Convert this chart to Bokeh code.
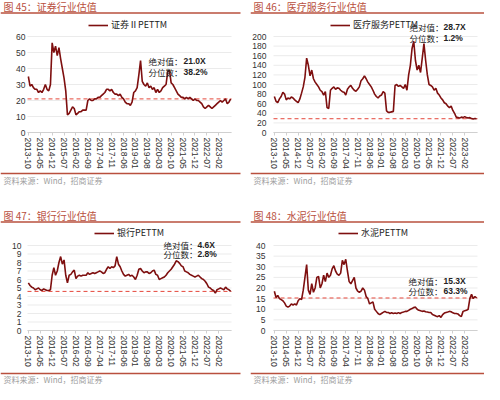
from bokeh.plotting import figure
from bokeh.layouts import row, column
from bokeh.models import Range1d, FixedTicker, Legend, LegendItem, Label
from bokeh.embed import file_html
from bokeh.resources import INLINE

# ---------------- data ----------------
tick_labels = ["2013-10", "2014-05", "2014-12", "2015-07", "2016-02", "2016-09", "2017-04",
               "2017-11", "2018-06", "2019-01", "2019-08", "2020-03", "2020-10", "2021-05",
               "2021-12", "2022-07", "2023-02"]

sec_pe = [35, 29, 30, 28, 27, 27, 25, 26, 25, 27,
          30, 27, 26, 30, 56, 50, 54, 48, 53, 46,
          40, 34, 26, 11, 12, 14, 16, 15, 11, 12,
          13, 13, 14, 14, 14, 20, 21, 20, 20, 21,
          21, 22, 22, 23, 24, 25, 27, 27, 26, 27,
          25, 24, 24, 23, 24, 22, 21, 19, 18, 18,
          17, 19, 25, 26, 28, 36, 45, 32, 30, 29,
          31, 28, 29, 27, 28, 25, 27, 25, 26, 28,
          29, 30, 38, 39, 31, 30, 28, 26, 24, 23,
          22, 22, 21, 22, 21, 22, 21, 20, 21, 20,
          20, 19, 18, 16, 15, 16, 17, 16, 15, 16,
          17, 18, 19, 20, 19, 20, 21, 18, 19, 21]

med_pe = [75, 65, 62, 70, 75, 84, 80, 68, 72, 70,
          74, 72, 68, 65, 62, 70, 82, 95, 115, 155,
          140, 118, 130, 112, 105, 100, 95, 88, 85, 78,
          85, 52, 50, 88, 92, 95, 90, 93, 92, 88,
          85, 84, 78, 90, 95, 98, 92, 88, 86, 90,
          95, 108, 112, 118, 112, 105, 100, 95, 88, 80,
          75, 72, 76, 78, 85, 82, 45, 42, 42, 43,
          44, 98, 100, 96, 98, 95, 92, 100, 88, 120,
          140, 175, 190, 150, 130, 140, 125, 155, 185, 150,
          120, 100, 98, 95, 88, 92, 82, 78, 72, 68,
          62, 60, 55, 52, 55, 46, 40, 32, 31, 30,
          32, 31, 33, 31, 30, 31, 29, 28, 29, 28.7]

bank_pe = [5.6, 5.3, 5.1, 5.0, 4.8, 4.9, 5.0, 4.8, 4.7, 4.9,
           4.8, 4.7, 4.7, 4.8, 6.5, 7.4, 6.5, 7.0, 8.0, 8.7,
           7.8, 8.3, 6.5, 5.6, 6.5, 6.6, 6.9, 7.1, 6.1, 6.4,
           6.5, 6.4, 6.5, 6.5, 6.5, 6.8, 6.6, 6.7, 6.8, 6.7,
           6.8, 6.9, 7.0, 6.9, 6.7, 6.8, 7.2, 7.5, 7.3, 7.5,
           7.4, 7.6, 8.7, 7.8, 7.5, 7.0, 6.6, 6.4, 6.5, 6.6,
           6.4, 6.5, 6.3, 6.0, 6.5, 7.2, 7.3, 7.0, 6.8, 6.9,
           6.9, 6.7, 6.8, 7.0, 7.1, 6.6, 6.5, 6.0, 6.1, 6.2,
           6.3, 6.5, 6.8, 7.0, 7.2, 7.5, 7.8, 8.2, 8.1, 7.9,
           7.6, 7.5, 7.0, 6.9, 6.8, 6.6, 6.5, 6.4, 6.3, 6.4,
           6.5, 6.3, 6.1, 6.0, 5.8, 5.5, 5.1, 5.0, 4.8, 4.7,
           4.4, 4.8, 4.9, 5.0, 4.9, 4.8, 5.1, 4.9, 4.8, 4.6]

cement_pe = [18.5, 15.5, 16.5, 15, 14.5, 14, 13, 11.5, 11, 11.5,
             12.5, 12, 12.5, 12, 14, 15, 14.5, 19, 25, 31,
             19, 17, 22, 18, 20, 25, 25.5, 20, 22, 26,
             23, 27, 25, 26, 29, 30.5, 28, 26.5, 26, 27,
             33, 31, 33.5, 28, 23, 22, 23.5, 25, 20, 18.5,
             18, 18.5, 20, 19, 16, 15, 12.5, 13, 13.5, 10,
             9, 8, 7.5, 8, 8.5, 9, 8.5, 8.5, 8, 8.3,
             8, 8.2, 8, 8.4, 8, 8.5, 8.7, 9, 9, 9.5,
             10, 10.3, 10.8, 11, 10, 9.5, 9.3, 9, 9.2, 8.8,
             8.7, 8.5, 8.5, 7.5, 7.2, 6.8, 6.5, 7, 6.2, 7.5,
             8.2, 8.5, 8.7, 9, 8.8, 8.3, 8, 8, 7.8, 7,
             6.6, 9, 9.3, 9.5, 10, 15, 17, 15, 16, 15.3]

titles = ["图 45：证券行业估值", "图 46：医疗服务行业估值", "图 47：银行行业估值", "图 48：水泥行业估值"]
series_names = ["证券ⅡPETTM", "医疗服务PETTM", "银行PETTM", "水泥PETTM"]
current_values = [21.0, 28.7, 4.6, 15.3]
current_labels = ["21.0X", "28.7X", "4.6X", "15.3X"]
percentile_labels = ["38.2%", "1.2%", "2.8%", "63.3%"]
y_max = [60, 200, 10, 40]
y_step = [10, 20, 1, 5]
source_text = "资料来源：Wind，招商证券"

# ---------------- style / layout (pixels inside each panel) ----------------
RED = "#B9503E"
LINE = "#7E0F0F"
DASH = "#E5473B"
CJK = "Noto Sans CJK SC"
LAT = "Liberation Sans"

# annotation: (x px of label, y value of line 1, y value of line 2, x px of number)
panel_cfg = [
    dict(W=250, H=196, L=27, R=231, T=36, B=132, title_y=5.5, rule1=12.5, rule2=173, src_y=180,
         rule_x1=240, leg=(88, 25), ann=(148, 44.4, 38.1, 183), standoff=2),
    dict(W=234, H=196, L=23, R=227, T=36, B=132, title_y=5.5, rule1=12.5, rule2=173, src_y=180,
         rule_x1=234, leg=(80, 25), ann=(159, 220, 196, 193), standoff=7),
    dict(W=250, H=188, L=27, R=231, T=49, B=134, title_y=19, rule1=25.5, rule2=177, src_y=183,
         rule_x1=240, leg=(94, 37), ann=(163, 10.1, 9.0, 197), standoff=6),
    dict(W=234, H=188, L=23, R=227, T=49, B=134, title_y=19, rule1=25.5, rule2=177, src_y=183,
         rule_x1=234, leg=(88, 37), ann=(158, 23.3, 18.5, 193), standoff=8),
]


def month_index(lbl):
    y, m = int(lbl[:4]), int(lbl[5:])
    return (y - 2013) * 12 + (m - 10)


tick_pos = [month_index(t) for t in tick_labels]


def make_panel(i, vals, cfg):
    W, H = cfg["W"], cfg["H"]
    xs = list(range(len(vals)))
    x_lo, x_hi = xs[0] - 0.5, xs[-1] + 0.5
    ppm = (cfg["R"] - cfg["L"]) / (x_hi - x_lo)
    ppu = (cfg["B"] - cfg["T"]) / y_max[i]
    x0 = x_lo - cfg["L"] / ppm
    x1 = x_hi + (W - cfg["R"]) / ppm
    y1 = y_max[i] + cfg["T"] / ppu
    y0 = -(H - cfg["B"]) / ppu

    def px(v):
        return x0 + v / ppm

    def py(v):
        return y1 - v / ppu

    p = figure(width=W, height=H, x_range=Range1d(x0, x1), y_range=Range1d(y0, y1),
               min_border=0, output_backend="svg", toolbar_location=None)
    p.outline_line_color = None
    p.grid.visible = False

    # header / footer rules and texts
    for ry in (cfg["rule1"], cfg["rule2"]):
        p.segment(x0=[px(0)], y0=[py(ry)], x1=[px(cfg["rule_x1"])], y1=[py(ry)],
                  line_color=RED, line_width=1.3)
    p.add_layout(Label(x=px(3), y=py(cfg["title_y"]), text=titles[i], text_font=CJK,
                       text_font_size="10px", text_color=RED, text_baseline="middle"))
    p.add_layout(Label(x=px(3), y=py(cfg["src_y"]), text=source_text, text_font=CJK,
                       text_font_size="8px", text_color="#A0A0A0", text_baseline="middle"))

    # horizontal gridlines at the y ticks
    yt = list(range(0, y_max[i] + 1, y_step[i]))
    p.segment(x0=[x_lo] * len(yt), y0=yt, x1=[x_hi] * len(yt), y1=yt,
              line_color="#EBEBEB", line_width=1)

    # current-value dashed line and the series
    p.segment(x0=[x_lo], y0=[current_values[i]], x1=[x_hi], y1=[current_values[i]],
              line_color=DASH, line_dash="4 3", line_width=1)
    r = p.line(xs, vals, line_color=LINE, line_width=1.6)

    # axes drawn at fixed positions inside the panel
    p.yaxis.fixed_location = x_lo
    p.yaxis.ticker = FixedTicker(ticks=yt)
    p.yaxis.axis_line_color = None
    p.yaxis.major_tick_line_color = None
    p.yaxis.minor_tick_line_color = None
    p.yaxis.major_tick_in = 0
    p.yaxis.major_tick_out = 0
    p.yaxis.major_label_standoff = cfg["standoff"]

    p.xaxis.fixed_location = 0
    p.xaxis.bounds = (x_lo, x_hi)
    p.xaxis.ticker = FixedTicker(ticks=tick_pos)
    p.xaxis.major_label_overrides = {t: l for t, l in zip(tick_pos, tick_labels)}
    p.xaxis.major_label_orientation = "vertical"
    p.xaxis.axis_line_color = "#D0D0D0"
    p.xaxis.major_tick_line_color = "#D0D0D0"
    p.xaxis.minor_tick_line_color = None
    p.xaxis.major_tick_in = 0
    p.xaxis.major_tick_out = 3
    p.xaxis.major_label_standoff = 2

    for ax in (p.xaxis[0], p.yaxis[0]):
        ax.major_label_text_font = LAT
        ax.major_label_text_font_size = "8.5px"
        ax.major_label_text_color = "#333333"

    lx, lcy = cfg["leg"]
    leg = Legend(items=[LegendItem(label=series_names[i], renderers=[r])],
                 location=(lx, H - (lcy + 6)), orientation="horizontal",
                 label_text_font=CJK, label_text_font_size="9px", label_text_color="#222222",
                 glyph_width=20, glyph_height=10, label_height=10, label_standoff=3,
                 padding=0, margin=0, spacing=0, border_line_color=None,
                 background_fill_alpha=0)
    p.add_layout(leg)

    ax_, ay1, ay2, vx = cfg["ann"]
    for txt, xx, yy, font, style in (("绝对值：", ax_, ay1, CJK, "normal"),
                                     ("分位数：", ax_, ay2, CJK, "normal"),
                                     (current_labels[i], vx, ay1, LAT, "bold"),
                                     (percentile_labels[i], vx, ay2, LAT, "bold")):
        p.add_layout(Label(x=px(xx), y=yy, text=txt, text_font=font, text_font_style=style,
                           text_font_size="8.5px", text_color="#222222", text_baseline="middle"))
    return p


all_series = [sec_pe, med_pe, bank_pe, cement_pe]
figs = [make_panel(i, s, panel_cfg[i]) for i, s in enumerate(all_series)]

layout = column(row(figs[0], figs[1]), row(figs[2], figs[3]))

open("out.html", "w").write(file_html(layout, INLINE))
